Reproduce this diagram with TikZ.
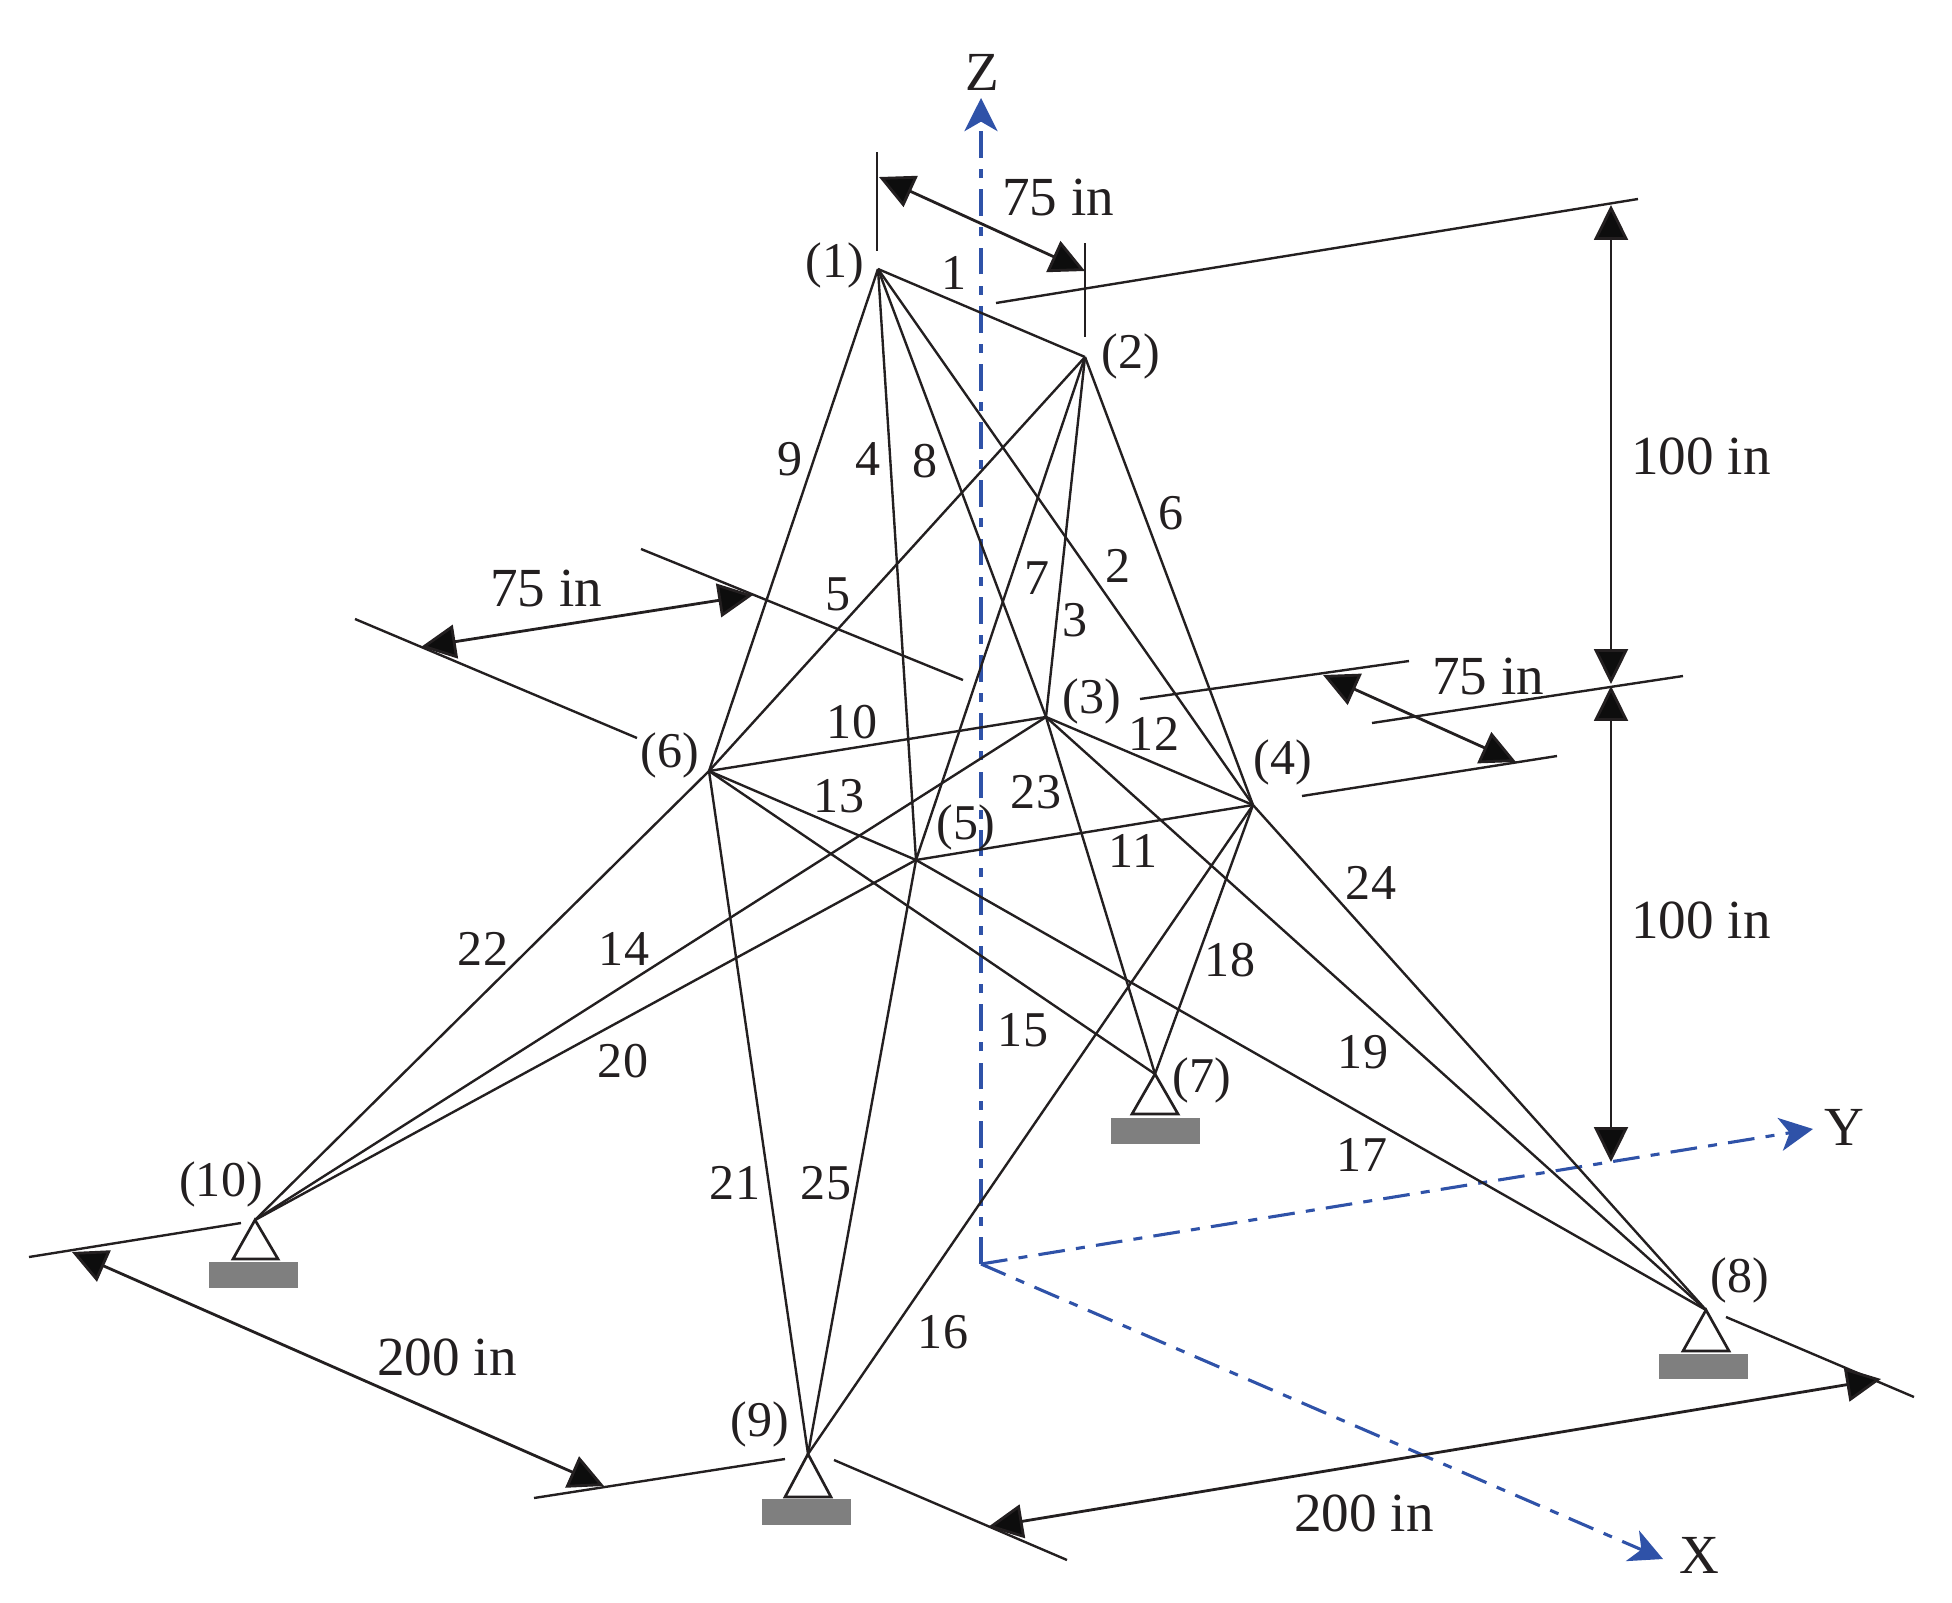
\documentclass[tikz,border=0pt]{standalone}
\usepackage{fontspec}
\setmainfont{Liberation Serif}
\usetikzlibrary{arrows.meta}
\definecolor{inkblack}{HTML}{231F20}
\definecolor{axisblue}{HTML}{2F52A8}
\definecolor{padgray}{HTML}{7F7F7F}
\begin{document}
\begin{tikzpicture}[x = .0125cm, y = -.0125cm,
    member/.style = {draw=inkblack, line width=.85pt},
    extline/.style = {draw=inkblack, line width=.85pt},
    dimline/.style = {draw=inkblack, line width=1pt, {Triangle[length=12.4pt, width=12pt, fill=black!95]}-{Triangle[length=12.4pt, width=12pt, fill=black!95]}},
    axisline/.style = {draw=axisblue, line width=1.1pt, dash pattern=on 9.5pt off 4pt on 3.2pt off 4pt, -{Stealth[length=11.8pt, width=11.8pt, inset=3.4pt, fill=axisblue]}},
    support/.style = {draw=inkblack, line width=.95pt, fill=white},
    pad/.style = {fill=padgray, inner sep=0pt, minimum width=31.5pt, minimum height=9.2pt},
    numlabel/.style = {text=inkblack, inner sep=0pt, font=\fontsize{17.8}{20}\selectfont},
    dimlabel/.style = {text=inkblack, inner sep=0pt, font=\fontsize{19.6}{22}\selectfont}]
  \useasboundingbox (0,0) rectangle (1952,1602);
  % joints
  \coordinate (n1) at (878,269);
  \coordinate (n2) at (1085,357);
  \coordinate (n3) at (1046,717);
  \coordinate (n4) at (1253,805);
  \coordinate (n5) at (916,860);
  \coordinate (n6) at (709,771);
  \coordinate (n7) at (1155,1074);
  \coordinate (n8) at (1706,1310);
  \coordinate (n9) at (808,1454);
  \coordinate (n10) at (255,1220);
  % axes
  \coordinate (orig) at (981,1264);
  \coordinate (ztip) at (981,98);
  \coordinate (ytip) at (1813,1129);
  \coordinate (xtip) at (1663,1559);
  \draw[axisline] (orig) -- (ztip);
  \draw[axisline] (orig) -- (ytip);
  \draw[axisline] (orig) -- (xtip);
  \node[dimlabel] (zlab) at (982,72) {Z};
  \node[dimlabel] (ylab) at (1844,1127) {Y};
  \node[dimlabel] (xlab) at (1699,1555) {X};
  % members
  \draw[member] (n1) -- (n2);
  \draw[member] (n1) -- (n4);
  \draw[member] (n2) -- (n3);
  \draw[member] (n1) -- (n5);
  \draw[member] (n2) -- (n6);
  \draw[member] (n2) -- (n4);
  \draw[member] (n2) -- (n5);
  \draw[member] (n1) -- (n3);
  \draw[member] (n1) -- (n6);
  \draw[member] (n6) -- (n3);
  \draw[member] (n5) -- (n4);
  \draw[member] (n3) -- (n4);
  \draw[member] (n6) -- (n5);
  \draw[member] (n3) -- (n10);
  \draw[member] (n6) -- (n7);
  \draw[member] (n4) -- (n9);
  \draw[member] (n5) -- (n8);
  \draw[member] (n4) -- (n7);
  \draw[member] (n3) -- (n8);
  \draw[member] (n5) -- (n10);
  \draw[member] (n6) -- (n9);
  \draw[member] (n6) -- (n10);
  \draw[member] (n3) -- (n7);
  \draw[member] (n4) -- (n8);
  \draw[member] (n5) -- (n9);
  % supports
  \draw[support] (n7) -- ++(-23,40) -- ++(46,0) -- cycle;
  \draw[support] (n8) -- ++(-23,41) -- ++(46,0) -- cycle;
  \draw[support] (n9) -- ++(-23,43) -- ++(46,0) -- cycle;
  \draw[support] (n10) -- ++(-22,39) -- ++(45,0) -- cycle;
  \node[pad] (pad7) at (1155.5,1131) {};
  \node[pad] (pad8) at (1703.5,1366.5) {};
  \node[pad] (pad9) at (806.5,1512) {};
  \node[pad] (pad10) at (253.5,1275) {};
  % extension lines
  \coordinate (a1) at (877,152);
  \coordinate (a2) at (877,251);
  \coordinate (b1) at (1085,243);
  \coordinate (b2) at (1085,337);
  \coordinate (c1) at (996,303);
  \coordinate (c2) at (1638,199);
  \coordinate (d1) at (641,549);
  \coordinate (d2) at (963,680);
  \coordinate (e1) at (355,619);
  \coordinate (e2) at (637,738);
  \coordinate (f1) at (1140,699);
  \coordinate (f2) at (1409,661);
  \coordinate (g1) at (1372,723);
  \coordinate (g2) at (1683,676);
  \coordinate (h1) at (1302,796);
  \coordinate (h2) at (1557,756);
  \coordinate (i1) at (29,1257);
  \coordinate (i2) at (241,1223);
  \coordinate (j1) at (534,1498);
  \coordinate (j2) at (785,1459);
  \coordinate (k1) at (834,1460);
  \coordinate (k2) at (1067,1560);
  \coordinate (l1) at (1726,1317);
  \coordinate (l2) at (1914,1397);
  \draw[extline] (a1) -- (a2);
  \draw[extline] (b1) -- (b2);
  \draw[extline] (c1) -- (c2);
  \draw[extline] (d1) -- (d2);
  \draw[extline] (e1) -- (e2);
  \draw[extline] (f1) -- (f2);
  \draw[extline] (g1) -- (g2);
  \draw[extline] (h1) -- (h2);
  \draw[extline] (i1) -- (i2);
  \draw[extline] (j1) -- (j2);
  \draw[extline] (k1) -- (k2);
  \draw[extline] (l1) -- (l2);
  % dimension arrows
  \coordinate (top1) at (879,177);
  \coordinate (top2) at (1085,271);
  \coordinate (left1) at (421,647);
  \coordinate (left2) at (753,595);
  \coordinate (right1) at (1323,675);
  \coordinate (right2) at (1516,762);
  \coordinate (up1) at (1611,205);
  \coordinate (up2) at (1611,684);
  \coordinate (low1) at (1611,686);
  \coordinate (low2) at (1611,1162);
  \coordinate (base1) at (72,1252);
  \coordinate (base2) at (604,1486);
  \coordinate (base3) at (988,1527);
  \coordinate (base4) at (1881,1379);
  \draw[dimline] (top1) -- (top2);
  \draw[dimline] (left1) -- (left2);
  \draw[dimline] (right1) -- (right2);
  \draw[dimline] (up1) -- (up2);
  \draw[dimline] (low1) -- (low2);
  \draw[dimline] (base1) -- (base2);
  \draw[dimline] (base3) -- (base4);
  \node[dimlabel] (dim1) at (1058,198) {75 in};
  \node[dimlabel] (dim2) at (546,589) {75 in};
  \node[dimlabel] (dim3) at (1488,677) {75 in};
  \node[dimlabel] (dim4) at (1701,456) {100 in};
  \node[dimlabel] (dim5) at (1701,920) {100 in};
  \node[dimlabel] (dim6) at (447,1357) {200 in};
  \node[dimlabel] (dim7) at (1364,1513) {200 in};
  % joint labels
  \node[numlabel] (j1lab) at (835,265) {(1)};
  \node[numlabel] (j2lab) at (1131,356) {(2)};
  \node[numlabel] (j3lab) at (1092,701) {(3)};
  \node[numlabel] (j4lab) at (1283,762) {(4)};
  \node[numlabel] (j5lab) at (966,827) {(5)};
  \node[numlabel] (j6lab) at (670,755) {(6)};
  \node[numlabel] (j7lab) at (1202,1080) {(7)};
  \node[numlabel] (j8lab) at (1740,1280) {(8)};
  \node[numlabel] (j9lab) at (760,1424) {(9)};
  \node[numlabel] (j10lab) at (221,1184) {(10)};
  % member labels
  \node[numlabel] (m1) at (954,273) {1};
  \node[numlabel] (m2) at (1118,566) {2};
  \node[numlabel] (m3) at (1075,620) {3};
  \node[numlabel] (m4) at (868,459) {4};
  \node[numlabel] (m5) at (838,594) {5};
  \node[numlabel] (m6) at (1171,513) {6};
  \node[numlabel] (m7) at (1037,578) {7};
  \node[numlabel] (m8) at (925,461) {8};
  \node[numlabel] (m9) at (790,459) {9};
  \node[numlabel] (m10) at (852,722) {10};
  \node[numlabel] (m11) at (1133,851) {11};
  \node[numlabel] (m12) at (1154,734) {12};
  \node[numlabel] (m13) at (839,796) {13};
  \node[numlabel] (m14) at (624,949) {14};
  \node[numlabel] (m15) at (1023,1030) {15};
  \node[numlabel] (m16) at (943,1332) {16};
  \node[numlabel] (m17) at (1362,1155) {17};
  \node[numlabel] (m18) at (1230,960) {18};
  \node[numlabel] (m19) at (1363,1052) {19};
  \node[numlabel] (m20) at (623,1061) {20};
  \node[numlabel] (m21) at (735,1183) {21};
  \node[numlabel] (m22) at (483,949) {22};
  \node[numlabel] (m23) at (1036,792) {23};
  \node[numlabel] (m24) at (1371,883) {24};
  \node[numlabel] (m25) at (826,1183) {25};
\end{tikzpicture}
\end{document}
